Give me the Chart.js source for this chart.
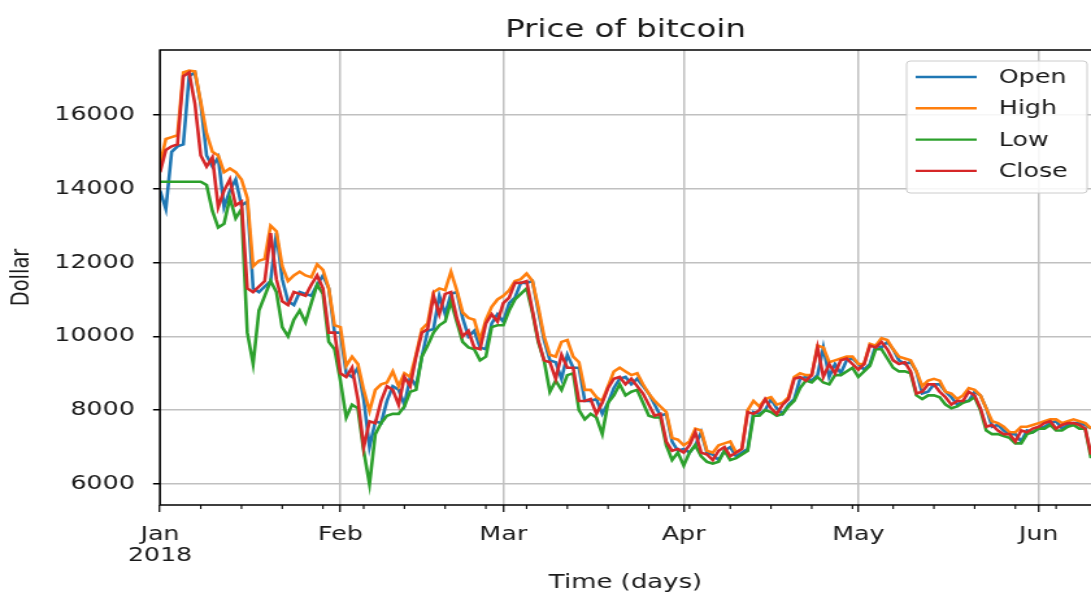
<!DOCTYPE html>
<html>
<head>
<meta charset="utf-8">
<title>Price of bitcoin</title>
<script src="https://cdn.jsdelivr.net/npm/chart.js@4.4.1/dist/chart.umd.min.js"></script>
<style>
  html, body { margin: 0; padding: 0; background: #fff; overflow: hidden; }
  /* the figure is drawn 840px wide and stretched to the window width */
  #wrap { width: 840px; height: 595px; transform: scale(1.2988, 1); transform-origin: 0 0; }
</style>
</head>
<body>
<div id="wrap"><canvas id="btcChart" width="840" height="595"></canvas></div>
<script>
// daily prices from 1 Jan 2018 (day 0) to 10 Jun 2018 (day 160)
const openPrices = [
  13950, 13450, 15000, 15150, 15200, 17050, 17150, 16300, 14900, 14600,
  14850, 13500, 13950, 14250, 13550, 13650, 11300, 11200, 11350, 11500,
  12800, 11550, 10950, 10850, 11200, 11150, 11100, 11400, 11650, 11300,
  10100, 10100, 9000, 8900, 9150, 8300, 7000, 7700, 7650, 8250,
  8650, 8550, 8150, 8900, 8650, 9450, 10150, 10200, 11100, 10600,
  11150, 11200, 10500, 10000, 10150, 9700, 9650, 10350, 10600, 10400,
  10900, 11050, 11450, 11450, 11500, 10700, 9900, 9350, 9300, 8850,
  9500, 9150, 9150, 8250, 8250, 8300, 7900, 8200, 8600, 8850,
  8900, 8700, 8850, 8650, 8450, 8150, 7850, 7900, 7150, 6900,
  6950, 6850, 7050, 7400, 6850, 6800, 6650, 6900, 7000, 6750,
  6850, 6950, 7950, 7900, 8000, 8300, 8050, 7900, 8150, 8300,
  8850, 8900, 8800, 8950, 9700, 8900, 9250, 9000, 9350, 9400,
  9250, 9100, 9250, 9750, 9700, 9850, 9650, 9350, 9250, 9300,
  9050, 8450, 8500, 8700, 8700, 8500, 8350, 8150, 8250, 8250,
  8500, 8400, 8050, 7550, 7600, 7450, 7350, 7350, 7150, 7450,
  7400, 7500, 7550, 7650, 7700, 7500, 7600, 7650, 7650, 7600,
  7500
];
const highPrices = [
  14650, 15350, 15400, 15450, 17150, 17200, 17180, 16350, 15500, 15000,
  14900, 14450, 14550, 14450, 14250, 13750, 11900, 12050, 12100, 13000,
  12850, 11900, 11500, 11650, 11750, 11650, 11600, 11950, 11800, 11300,
  10300, 10250, 9200, 9450, 9250, 8550, 7980, 8550, 8700, 8750,
  9050, 8650, 9000, 8900, 9500, 10200, 10350, 11200, 11300, 11250,
  11750, 11250, 10650, 10500, 10450, 9900, 10450, 10800, 11000, 11100,
  11250, 11500, 11550, 11700, 11500, 10800, 10000, 9500, 9450, 9850,
  9900, 9450, 9300, 8550, 8550, 8350, 8250, 8650, 9050, 9150,
  9050, 8950, 9000, 8700, 8450, 8250, 8100, 7950, 7250, 7200,
  7050, 7150, 7500, 7450, 6900, 6850, 7050, 7100, 7150, 6850,
  6950, 8000, 8250, 8100, 8300, 8350, 8150, 8200, 8350, 8900,
  9000, 8950, 8950, 9750, 9700, 9300, 9350, 9400, 9450, 9450,
  9250, 9250, 9800, 9750, 9950, 9900, 9650, 9450, 9400, 9350,
  9050, 8650, 8800, 8850, 8800, 8500, 8450, 8300, 8400, 8600,
  8550, 8400, 8050, 7700, 7650, 7550, 7400, 7400, 7550, 7550,
  7600, 7650, 7700, 7750, 7750, 7650, 7700, 7750, 7700, 7650,
  7500
];
const lowPrices = [
  14190, 14190, 14190, 14190, 14190, 14190, 14190, 14190, 14100, 13400,
  12950, 13050, 13750, 13200, 13450, 10100, 9250, 10700, 11100, 11500,
  11200, 10250, 10000, 10450, 10700, 10380, 10900, 11400, 11150, 9850,
  9650, 8800, 7800, 8150, 8050, 6900, 5990, 7350, 7650, 7850,
  7900, 7900, 8100, 8500, 8550, 9450, 9750, 10100, 10300, 10400,
  10950, 10400, 9850, 9700, 9650, 9350, 9450, 10250, 10300, 10300,
  10700, 11000, 11150, 11300, 10650, 9850, 9350, 8500, 8800, 8550,
  8950, 9000, 8000, 7750, 7900, 7800, 7350, 8200, 8400, 8700,
  8400, 8500, 8550, 8200, 7850, 7800, 7800, 7050, 6650, 6850,
  6500, 6850, 7050, 6750, 6600, 6550, 6600, 6900, 6650, 6700,
  6800, 6900, 7850, 7850, 8000, 7950, 7850, 7900, 8100, 8250,
  8600, 8800, 8750, 8900, 8750, 8700, 8950, 8950, 9050, 9150,
  8900, 9050, 9200, 9650, 9650, 9400, 9150, 9050, 9050, 9000,
  8400, 8300, 8400, 8400, 8350, 8150, 8050, 8100, 8200, 8250,
  8350, 8000, 7450, 7350, 7350, 7300, 7250, 7100, 7100, 7350,
  7400, 7500, 7500, 7600, 7450, 7450, 7550, 7600, 7500, 7500,
  6700
];
const closePrices = [
  14450, 15050, 15150, 15200, 17050, 17150, 16300, 14900, 14600, 14850,
  13500, 13950, 14250, 13550, 13650, 11300, 11200, 11350, 11500, 12800,
  11550, 10950, 10850, 11200, 11150, 11100, 11400, 11650, 11300, 10100,
  10100, 9000, 8900, 9150, 8300, 6990, 7700, 7650, 8250, 8650,
  8550, 8150, 8900, 8650, 9450, 10100, 10200, 11100, 10600, 11150,
  11200, 10500, 10000, 10150, 9700, 9650, 10350, 10600, 10400, 10900,
  11050, 11450, 11450, 11500, 10700, 9900, 9350, 9300, 8850, 9500,
  9150, 9150, 8250, 8250, 8300, 7900, 8200, 8600, 8850, 8900,
  8700, 8850, 8650, 8450, 8150, 7850, 7900, 7150, 6900, 6950,
  6850, 7050, 7400, 6850, 6800, 6650, 6900, 7000, 6750, 6850,
  6950, 7950, 7900, 8000, 8300, 8050, 7900, 8150, 8300, 8850,
  8900, 8800, 8950, 9700, 8900, 9250, 9000, 9350, 9400, 9250,
  9100, 9250, 9750, 9700, 9850, 9650, 9350, 9250, 9300, 9050,
  8450, 8500, 8700, 8700, 8500, 8350, 8150, 8250, 8250, 8500,
  8400, 8050, 7550, 7600, 7450, 7350, 7350, 7150, 7450, 7400,
  7500, 7550, 7650, 7700, 7500, 7600, 7650, 7650, 7600, 7500,
  6800
];

// axis ticks
const monthStarts = [0, 31, 59, 90, 120, 151];
const monthNames = ['Jan', 'Feb', 'Mar', 'Apr', 'May', 'Jun'];
const yearLabel = '2018';
const priceTicks = [6000, 8000, 10000, 12000, 14000, 16000];

const dayNumbers = closePrices.map((_, i) => i);

const FONT = 'DejaVu Sans';
const TEXT = '#1a1a1a';
const GRID = '#c0c0c0';

// black frame on top/left/bottom plus the small weekly ticks
const axesFrame = {
  id: 'axesFrame',
  afterDatasetsDraw(chart) {
    const { ctx, chartArea: a, scales: { x } } = chart;
    ctx.save();
    ctx.strokeStyle = '#000';
    ctx.lineWidth = 1.5;
    ctx.beginPath();
    ctx.moveTo(a.right + 2, a.top);
    ctx.lineTo(a.left, a.top);
    ctx.lineTo(a.left, a.bottom);
    ctx.lineTo(a.right + 2, a.bottom);
    ctx.stroke();
    ctx.lineWidth = 1.1;
    ctx.beginPath();
    for (let d = 7; d <= x.max; d += 7) {
      const px = x.getPixelForValue(d);
      ctx.moveTo(px, a.bottom);
      ctx.lineTo(px, a.bottom + 4);
    }
    ctx.stroke();
    ctx.restore();
  }
};

// legend box in the upper right corner of the plot
const boxLegend = {
  id: 'boxLegend',
  afterDraw(chart) {
    const { ctx } = chart;
    const x0 = 698, y0 = 61, w = 139, h = 132;
    ctx.save();
    ctx.fillStyle = 'rgba(255,255,255,0.85)';
    ctx.strokeStyle = '#cccccc';
    ctx.lineWidth = 1;
    ctx.beginPath();
    ctx.roundRect(x0, y0, w, h, 3);
    ctx.fill();
    ctx.stroke();
    ctx.font = '19.5px "' + FONT + '"';
    ctx.textBaseline = 'middle';
    chart.data.datasets.forEach((ds, i) => {
      const y = y0 + 16 + i * 31.3;
      ctx.strokeStyle = ds.borderColor;
      ctx.lineWidth = 2.4;
      ctx.beginPath();
      ctx.moveTo(705, y);
      ctx.lineTo(752, y);
      ctx.stroke();
      ctx.fillStyle = TEXT;
      ctx.fillText(ds.label, 769, y + 1);
    });
    ctx.restore();
  }
};

new Chart(document.getElementById('btcChart'), {
  type: 'line',
  data: {
    labels: dayNumbers,
    datasets: [
      { label: 'Open', data: openPrices, borderColor: '#1f77b4', order: 4 },
      { label: 'High', data: highPrices, borderColor: '#ff7f0e', order: 3 },
      { label: 'Low', data: lowPrices, borderColor: '#2ca02c', order: 2 },
      { label: 'Close', data: closePrices, borderColor: '#d62728', order: 1 }
    ]
  },
  options: {
    responsive: false,
    animation: false,
    layout: { padding: 0 },
    elements: {
      point: { radius: 0 },
      line: { borderWidth: 2.6, tension: 0, fill: false }
    },
    plugins: {
      legend: { display: false },
      tooltip: { enabled: false },
      title: {
        display: true,
        text: 'Price of bitcoin',
        fullSize: false,
        color: TEXT,
        font: { family: FONT, size: 25, weight: 'normal' },
        padding: { top: 15, bottom: 5 }
      }
    },
    scales: {
      x: {
        type: 'linear',
        min: 0,
        max: 160,
        afterBuildTicks: s => { s.ticks = monthStarts.map(v => ({ value: v })); },
        afterFit: s => { s.height = 90; },
        ticks: {
          autoSkip: false,
          maxRotation: 0,
          padding: 12,
          color: TEXT,
          font: { family: FONT, size: 19.5, lineHeight: 1.1 },
          callback: v => {
            const i = monthStarts.indexOf(v);
            return i === 0 ? [monthNames[0], yearLabel] : monthNames[i];
          }
        },
        grid: { color: GRID, lineWidth: 1.5, tickColor: '#000', tickLength: 7, tickWidth: 1.2 },
        border: { display: false },
        title: {
          display: true,
          text: 'Time (days)',
          color: TEXT,
          font: { family: FONT, size: 20 },
          padding: { top: 0, bottom: 0 }
        }
      },
      y: {
        min: 5430,
        max: 17760,
        afterBuildTicks: s => { s.ticks = priceTicks.map(v => ({ value: v })); },
        afterFit: s => { s.width = 123.2; },
        ticks: {
          padding: 14,
          color: TEXT,
          font: { family: FONT, size: 19.5 },
          callback: v => String(v)
        },
        grid: { color: GRID, lineWidth: 1.5, tickColor: '#000', tickLength: 5.4, tickWidth: 1.5 },
        border: { display: false },
        title: {
          display: true,
          text: 'Dollar',
          color: TEXT,
          font: { family: FONT, size: 19.5 },
          padding: { top: 5, bottom: 0 }
        }
      }
    }
  },
  plugins: [axesFrame, boxLegend]
});
</script>
</body>
</html>
